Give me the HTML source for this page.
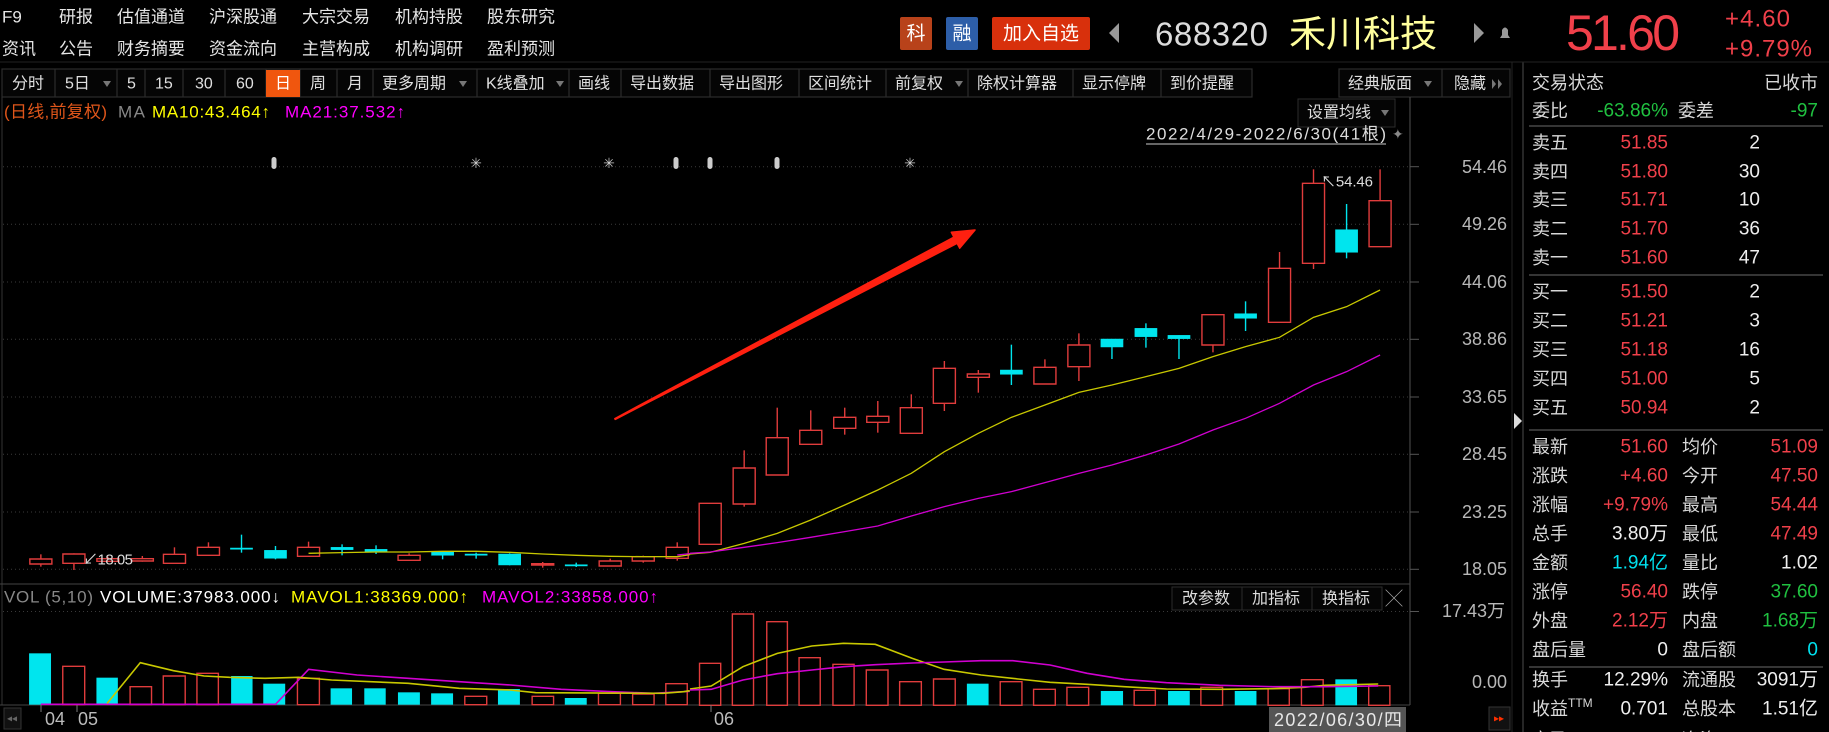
<!DOCTYPE html>
<html><head><meta charset="utf-8"><style>
html,body{margin:0;padding:0;background:#000;width:1829px;height:732px;overflow:hidden}
svg{display:block}
text{font-family:"Liberation Sans","Noto Sans CJK SC",sans-serif}
</style></head><body>
<svg width="1829" height="732" viewBox="0 0 1829 732" xmlns="http://www.w3.org/2000/svg">
<rect width="1829" height="732" fill="#000"/>
<!-- top nav -->
<g fill="#e6e6e6" font-size="17" dominant-baseline="central">
<text x="2" y="17">F9</text><text x="59" y="17">研报</text><text x="117" y="17">估值通道</text><text x="209" y="17">沪深股通</text><text x="302" y="17">大宗交易</text><text x="395" y="17">机构持股</text><text x="487" y="17">股东研究</text>
<text x="2" y="49">资讯</text><text x="59" y="49">公告</text><text x="117" y="49">财务摘要</text><text x="209" y="49">资金流向</text><text x="302" y="49">主营构成</text><text x="395" y="49">机构调研</text><text x="487" y="49">盈利预测</text>
</g>
<!-- header badges -->
<rect x="900" y="17" width="32" height="33" rx="2" fill="#b8421a"/><text x="916" y="34" fill="#fff" font-size="19" text-anchor="middle" dominant-baseline="central">科</text>
<rect x="946" y="17" width="32" height="33" rx="2" fill="#2d5ea8"/><text x="962" y="34" fill="#fff" font-size="19" text-anchor="middle" dominant-baseline="central">融</text>
<rect x="992" y="17" width="98" height="33" rx="2" fill="#d8300c"/><text x="1041" y="34" fill="#fff" font-size="19" text-anchor="middle" dominant-baseline="central">加入自选</text>
<polygon points="1109,33 1119,23 1119,43" fill="#999"/>
<text x="1155" y="34" fill="#dcdcdc" font-size="33" dominant-baseline="central" textLength="113">688320</text>
<text x="1289" y="34" fill="#ffff9c" font-size="37" dominant-baseline="central" textLength="148">禾川科技</text>
<polygon points="1474,23 1484,33 1474,43" fill="#999"/>
<path d="M1500,38 L1510,38 L1508,35 L1508,30 Q1505,25 1502,30 L1502,35 Z" fill="#999"/>
<text x="1566" y="33" fill="#f0404a" font-size="50" dominant-baseline="central" textLength="114">51.60</text>
<text x="1725" y="19" fill="#f0404a" font-size="24" dominant-baseline="central" textLength="65">+4.60</text>
<text x="1725" y="49" fill="#f0404a" font-size="24" dominant-baseline="central" textLength="87">+9.79%</text>
<!-- toolbar -->
<g stroke="#2c2c2c" stroke-width="1.2" fill="#050505">
<rect x="2" y="69" width="1250" height="28"/>
<rect x="1339" y="69" width="171" height="28"/>
</g>
<g stroke="#2c2c2c" stroke-width="1.2">
<line x1="55" y1="69" x2="55" y2="97"/><line x1="117" y1="69" x2="117" y2="97"/><line x1="145" y1="69" x2="145" y2="97"/><line x1="183" y1="69" x2="183" y2="97"/><line x1="225" y1="69" x2="225" y2="97"/><line x1="266" y1="69" x2="266" y2="97"/><line x1="300" y1="69" x2="300" y2="97"/><line x1="337" y1="69" x2="337" y2="97"/><line x1="373" y1="69" x2="373" y2="97"/><line x1="477" y1="69" x2="477" y2="97"/><line x1="569" y1="69" x2="569" y2="97"/><line x1="621" y1="69" x2="621" y2="97"/><line x1="710" y1="69" x2="710" y2="97"/><line x1="799" y1="69" x2="799" y2="97"/><line x1="886" y1="69" x2="886" y2="97"/><line x1="968" y1="69" x2="968" y2="97"/><line x1="1073" y1="69" x2="1073" y2="97"/><line x1="1161" y1="69" x2="1161" y2="97"/><line x1="1442" y1="69" x2="1442" y2="97"/>
</g>
<rect x="266" y="70" width="34" height="27" fill="#f0560e"/>
<g fill="#e0e0e0" font-size="16" dominant-baseline="central">
<text x="12" y="84">分时</text><text x="65" y="84">5日</text><text x="127" y="84">5</text><text x="155" y="84">15</text><text x="195" y="84">30</text><text x="236" y="84">60</text><text x="275" y="84" fill="#fff">日</text><text x="310" y="84">周</text><text x="347" y="84">月</text><text x="382" y="84">更多周期</text><text x="486" y="84">K线叠加</text><text x="578" y="84">画线</text><text x="630" y="84">导出数据</text><text x="719" y="84">导出图形</text><text x="808" y="84">区间统计</text><text x="895" y="84">前复权</text><text x="977" y="84">除权计算器</text><text x="1082" y="84">显示停牌</text><text x="1170" y="84">到价提醒</text><text x="1348" y="84">经典版面</text><text x="1454" y="84">隐藏</text>
</g>
<g fill="#777"><polygon points="103,81 111,81 107,87"/><polygon points="459,81 467,81 463,87"/><polygon points="556,81 564,81 560,87"/><polygon points="955,81 963,81 959,87"/><polygon points="1424,81 1432,81 1428,87"/><polygon points="1492,79 1496,84 1492,89"/><polygon points="1498,79 1502,84 1498,89"/></g>
<!-- legend -->
<g font-size="17" dominant-baseline="central">
<text x="4" y="112" fill="#e0561a" textLength="103">(日线,前复权)</text>
<text x="118" y="112" fill="#888" textLength="27">MA</text>
<text x="152" y="112" fill="#ffff00" textLength="118">MA10:43.464↑</text>
<text x="285" y="112" fill="#ff00ff" textLength="120">MA21:37.532↑</text>
</g>
<rect x="1298" y="99" width="97" height="28" fill="#050505" stroke="#2c2c2c"/>
<text x="1307" y="113" fill="#ddd" font-size="16" dominant-baseline="central">设置均线</text>
<polygon points="1381,110 1389,110 1385,116" fill="#777"/>
<text x="1146" y="134" fill="#ddd" font-size="17" dominant-baseline="central" textLength="240">2022/4/29-2022/6/30(41根)</text>
<line x1="1146" y1="144" x2="1386" y2="144" stroke="#ccc" stroke-width="1"/>
<text x="1392" y="134" fill="#888" font-size="14" dominant-baseline="central">✦</text>
<!-- chart frame -->
<line x1="2" y1="97" x2="2" y2="705" stroke="#333"/>
<line x1="1410" y1="97" x2="1410" y2="705" stroke="#444" stroke-width="1.2"/>
<line x1="0" y1="584" x2="1410" y2="584" stroke="#444"/>
<line x1="0" y1="705" x2="1410" y2="705" stroke="#444"/>
<g stroke="#3a3a3a" stroke-dasharray="1,3">
<line x1="3" y1="166.7" x2="1410" y2="166.7"/><line x1="3" y1="224.3" x2="1410" y2="224.3"/><line x1="3" y1="282" x2="1410" y2="282"/><line x1="3" y1="339.3" x2="1410" y2="339.3"/><line x1="3" y1="397" x2="1410" y2="397"/><line x1="3" y1="454.3" x2="1410" y2="454.3"/><line x1="3" y1="512" x2="1410" y2="512"/><line x1="3" y1="569.3" x2="1410" y2="569.3"/><line x1="3" y1="611.5" x2="1410" y2="611.5"/>
</g>
<g stroke="#555"><line x1="1410" y1="166.7" x2="1419" y2="166.7"/><line x1="1410" y1="224.3" x2="1419" y2="224.3"/><line x1="1410" y1="282" x2="1419" y2="282"/><line x1="1410" y1="339.3" x2="1419" y2="339.3"/><line x1="1410" y1="397" x2="1419" y2="397"/><line x1="1410" y1="454.3" x2="1419" y2="454.3"/><line x1="1410" y1="512" x2="1419" y2="512"/><line x1="1410" y1="569.3" x2="1419" y2="569.3"/><line x1="1410" y1="611.5" x2="1419" y2="611.5"/></g>
<g fill="#b8b8b8" font-size="18" text-anchor="end" dominant-baseline="central">
<text x="1507" y="167">54.46</text><text x="1507" y="224">49.26</text><text x="1507" y="282">44.06</text><text x="1507" y="339">38.86</text><text x="1507" y="397">33.65</text><text x="1507" y="454">28.45</text><text x="1507" y="512">23.25</text><text x="1507" y="569">18.05</text><text x="1505" y="611">17.43万</text><text x="1507" y="682">0.00</text>
</g>
<polygon points="1514,413 1522,421 1514,429" fill="#ddd"/>
<!-- markers -->
<g fill="#ccc" font-size="14" text-anchor="middle" dominant-baseline="central">
<rect x="271.5" y="157" width="5" height="12" rx="2.5"/><rect x="673.5" y="157" width="5" height="12" rx="2.5"/><rect x="707.5" y="157" width="5" height="12" rx="2.5"/><rect x="774.5" y="157" width="5" height="12" rx="2.5"/>
<text x="476" y="163">✳</text><text x="609" y="163">✳</text><text x="910" y="163">✳</text>
</g>
<!-- red arrow -->
<polygon points="615.2,419.4 957.1,243.3 959.7,248.2 975,230 951.3,232.2 953.9,237.1 614.8,418.6" fill="#ff2010" stroke="#ff2010" stroke-width="1.5" stroke-linejoin="round"/>
<!-- candles group A -->
<g transform="translate(0,140) scale(0.45914,0.33333)">
<g stroke="#e03c3c" stroke-width="1.4" fill="#000" vector-effect="non-scaling-stroke">
<line x1="89" y1="1243" x2="89" y2="1280" vector-effect="non-scaling-stroke"/><rect x="65" y="1257" width="48" height="15" vector-effect="non-scaling-stroke"/>
<line x1="161" y1="1240" x2="161" y2="1290" vector-effect="non-scaling-stroke"/><rect x="137" y="1242" width="48" height="28" vector-effect="non-scaling-stroke"/>
<line x1="235" y1="1250" x2="235" y2="1266" vector-effect="non-scaling-stroke"/><rect x="211" y="1256" width="48" height="8" vector-effect="non-scaling-stroke"/>
<line x1="310" y1="1248" x2="310" y2="1265" vector-effect="non-scaling-stroke"/><rect x="286" y="1256" width="48" height="7" vector-effect="non-scaling-stroke"/>
<line x1="380" y1="1222" x2="380" y2="1272" vector-effect="non-scaling-stroke"/><rect x="356" y="1243" width="48" height="27" vector-effect="non-scaling-stroke"/>
<line x1="454" y1="1207" x2="454" y2="1246" vector-effect="non-scaling-stroke"/><rect x="430" y="1222" width="48" height="24" vector-effect="non-scaling-stroke"/>
<line x1="672" y1="1205" x2="672" y2="1249" vector-effect="non-scaling-stroke"/><rect x="648" y="1222" width="48" height="27" vector-effect="non-scaling-stroke"/>
<line x1="891" y1="1240" x2="891" y2="1263" vector-effect="non-scaling-stroke"/><rect x="867" y="1246" width="48" height="15" vector-effect="non-scaling-stroke"/>
<line x1="1182" y1="1266" x2="1182" y2="1283" vector-effect="non-scaling-stroke"/><rect x="1158" y="1271" width="48" height="4" vector-effect="non-scaling-stroke"/>
<line x1="1329" y1="1256" x2="1329" y2="1278" vector-effect="non-scaling-stroke"/><rect x="1305" y="1263" width="48" height="15" vector-effect="non-scaling-stroke"/>
<line x1="1401" y1="1247" x2="1401" y2="1268" vector-effect="non-scaling-stroke"/><rect x="1377" y="1250" width="48" height="13" vector-effect="non-scaling-stroke"/>
<line x1="1475" y1="1207" x2="1475" y2="1262" vector-effect="non-scaling-stroke"/><rect x="1451" y="1222" width="48" height="33" vector-effect="non-scaling-stroke"/>
</g>
<g stroke="#00e5ee" stroke-width="1.4" fill="#00e5ee">
<line x1="526" y1="1184" x2="526" y2="1238" vector-effect="non-scaling-stroke"/><rect x="502" y="1224" width="48" height="4"/>
<line x1="600" y1="1218" x2="600" y2="1258" vector-effect="non-scaling-stroke"/><rect x="576" y="1231" width="48" height="24"/>
<line x1="745" y1="1213" x2="745" y2="1246" vector-effect="non-scaling-stroke"/><rect x="721" y="1222" width="48" height="7"/>
<line x1="819" y1="1216" x2="819" y2="1242" vector-effect="non-scaling-stroke"/><rect x="795" y="1228" width="48" height="7"/>
<line x1="964" y1="1234" x2="964" y2="1258" vector-effect="non-scaling-stroke"/><rect x="940" y="1236" width="48" height="10"/>
<line x1="1037" y1="1238" x2="1037" y2="1256" vector-effect="non-scaling-stroke"/><rect x="1013" y="1242" width="48" height="4"/>
<line x1="1110" y1="1240" x2="1110" y2="1276" vector-effect="non-scaling-stroke"/><rect x="1086" y="1242" width="48" height="33"/>
<line x1="1255" y1="1268" x2="1255" y2="1281" vector-effect="non-scaling-stroke"/><rect x="1231" y="1274" width="48" height="4"/>
</g>
<polyline fill="none" stroke="#c8c800" stroke-width="1.3" vector-effect="non-scaling-stroke" points="672,1240 745,1238 819,1236 891,1236 964,1234 1037,1234 1110,1237 1182,1242 1255,1246 1329,1249 1401,1250 1475,1250 1503,1244"/>
<polyline fill="none" stroke="#d000d0" stroke-width="1.3" vector-effect="non-scaling-stroke" points="1475,1245 1503,1241"/>
</g>
<text x="83" y="560" fill="#ddd" font-size="15" dominant-baseline="central" textLength="50">↙18.05</text>
<!-- candles group B -->
<g transform="translate(690,140) scale(0.45914,0.33333)">
<g stroke="#e03c3c" stroke-width="1.4" fill="#000">
<rect x="20" y="1090" width="48" height="123" vector-effect="non-scaling-stroke"/>
<line x1="118" y1="931" x2="118" y2="1100" vector-effect="non-scaling-stroke"/><rect x="94" y="984" width="48" height="108" vector-effect="non-scaling-stroke"/>
<line x1="190" y1="803" x2="190" y2="1005" vector-effect="non-scaling-stroke"/><rect x="166" y="893" width="48" height="112" vector-effect="non-scaling-stroke"/>
<line x1="263" y1="811" x2="263" y2="915" vector-effect="non-scaling-stroke"/><rect x="239" y="871" width="48" height="42" vector-effect="non-scaling-stroke"/>
<line x1="337" y1="803" x2="337" y2="884" vector-effect="non-scaling-stroke"/><rect x="313" y="832" width="48" height="33" vector-effect="non-scaling-stroke"/>
<line x1="409" y1="783" x2="409" y2="878" vector-effect="non-scaling-stroke"/><rect x="385" y="829" width="48" height="18" vector-effect="non-scaling-stroke"/>
<line x1="482" y1="763" x2="482" y2="880" vector-effect="non-scaling-stroke"/><rect x="458" y="803" width="48" height="77" vector-effect="non-scaling-stroke"/>
<line x1="554" y1="663" x2="554" y2="813" vector-effect="non-scaling-stroke"/><rect x="530" y="685" width="48" height="105" vector-effect="non-scaling-stroke"/>
<line x1="628" y1="690" x2="628" y2="758" vector-effect="non-scaling-stroke"/><rect x="604" y="702" width="48" height="10" vector-effect="non-scaling-stroke"/>
<line x1="773" y1="658" x2="773" y2="732" vector-effect="non-scaling-stroke"/><rect x="749" y="682" width="48" height="50" vector-effect="non-scaling-stroke"/>
<line x1="847" y1="580" x2="847" y2="723" vector-effect="non-scaling-stroke"/><rect x="823" y="615" width="48" height="65" vector-effect="non-scaling-stroke"/>
<line x1="1139" y1="524" x2="1139" y2="637" vector-effect="non-scaling-stroke"/><rect x="1115" y="524" width="48" height="91" vector-effect="non-scaling-stroke"/>
<line x1="1284" y1="336" x2="1284" y2="547" vector-effect="non-scaling-stroke"/><rect x="1260" y="385" width="48" height="162" vector-effect="non-scaling-stroke"/>
<line x1="1358" y1="88" x2="1358" y2="387" vector-effect="non-scaling-stroke"/><rect x="1334" y="130" width="48" height="240" vector-effect="non-scaling-stroke"/>
<line x1="1503" y1="88" x2="1503" y2="320" vector-effect="non-scaling-stroke"/><rect x="1479" y="182" width="48" height="138" vector-effect="non-scaling-stroke"/>
</g>
<g stroke="#00e5ee" stroke-width="1.4" fill="#00e5ee">
<line x1="700" y1="614" x2="700" y2="735" vector-effect="non-scaling-stroke"/><rect x="676" y="690" width="48" height="13"/>
<line x1="919" y1="597" x2="919" y2="657" vector-effect="non-scaling-stroke"/><rect x="895" y="597" width="48" height="24"/>
<line x1="993" y1="550" x2="993" y2="623" vector-effect="non-scaling-stroke"/><rect x="969" y="565" width="48" height="25"/>
<line x1="1065" y1="586" x2="1065" y2="657" vector-effect="non-scaling-stroke"/><rect x="1041" y="586" width="48" height="10"/>
<line x1="1210" y1="484" x2="1210" y2="573" vector-effect="non-scaling-stroke"/><rect x="1186" y="521" width="48" height="14"/>
<line x1="1430" y1="192" x2="1430" y2="355" vector-effect="non-scaling-stroke"/><rect x="1406" y="269" width="48" height="68"/>
</g>
<polyline fill="none" stroke="#c8c800" stroke-width="1.3" vector-effect="non-scaling-stroke" points="0,1242 44,1237 118,1210 190,1180 263,1140 337,1095 409,1050 482,1000 554,935 628,880 700,832 773,795 847,757 919,735 993,710 1065,685 1139,650 1210,620 1284,592 1358,532 1430,500 1503,450"/>
<polyline fill="none" stroke="#d000d0" stroke-width="1.3" vector-effect="non-scaling-stroke" points="0,1240 44,1236 118,1222 190,1208 263,1192 337,1175 409,1158 482,1128 554,1100 628,1075 700,1055 773,1028 847,1000 919,975 993,945 1065,912 1139,870 1210,835 1284,790 1358,735 1430,695 1503,645"/>
</g>
<text x="1321" y="182" fill="#ddd" font-size="15" dominant-baseline="central" textLength="52">↖54.46</text>
<!-- volume header -->
<g font-size="17" dominant-baseline="central">
<text x="4" y="597" fill="#888" textLength="89">VOL (5,10)</text>
<text x="100" y="597" fill="#fff" textLength="180">VOLUME:37983.000↓</text>
<text x="291" y="597" fill="#ffff00" textLength="177">MAVOL1:38369.000↑</text>
<text x="482" y="597" fill="#ff00ff" textLength="176">MAVOL2:33858.000↑</text>
</g>
<g stroke="#2c2c2c" fill="#050505"><rect x="1172" y="587" width="70" height="23"/><rect x="1242" y="587" width="70" height="23"/><rect x="1312" y="587" width="70" height="23"/></g>
<g fill="#ddd" font-size="16" dominant-baseline="central"><text x="1182" y="599">改参数</text><text x="1252" y="599">加指标</text><text x="1322" y="599">换指标</text></g>
<text x="1394" y="599" fill="#aaa" font-size="17" text-anchor="middle" dominant-baseline="central">╳</text>
<!-- volume group A -->
<g transform="translate(0,570) scale(0.5102,0.33333)">
<g fill="#00e5ee"><rect x="57" y="250" width="43" height="154"/><rect x="189" y="323" width="42" height="81"/><rect x="453" y="318" width="42" height="86"/><rect x="516" y="341" width="43" height="63"/><rect x="648" y="355" width="42" height="49"/><rect x="714" y="355" width="42" height="49"/><rect x="780" y="367" width="43" height="37"/><rect x="845" y="370" width="43" height="34"/><rect x="976" y="357" width="43" height="47"/><rect x="1107" y="384" width="43" height="20"/></g>
<g fill="none" stroke="#e03c3c" stroke-width="1.4"><rect x="123" y="289" width="43" height="115" vector-effect="non-scaling-stroke"/><rect x="255" y="350" width="42" height="54" vector-effect="non-scaling-stroke"/><rect x="320" y="318" width="43" height="86" vector-effect="non-scaling-stroke"/><rect x="386" y="310" width="42" height="94" vector-effect="non-scaling-stroke"/><rect x="583" y="325" width="43" height="79" vector-effect="non-scaling-stroke"/><rect x="911" y="379" width="43" height="25" vector-effect="non-scaling-stroke"/><rect x="1043" y="379" width="42" height="25" vector-effect="non-scaling-stroke"/><rect x="1173" y="370" width="43" height="34" vector-effect="non-scaling-stroke"/><rect x="1240" y="372" width="42" height="32" vector-effect="non-scaling-stroke"/><rect x="1305" y="341" width="42" height="63" vector-effect="non-scaling-stroke"/></g>
<polyline fill="none" stroke="#d000d0" stroke-width="1.6" vector-effect="non-scaling-stroke" points="80,403 540,403 605,298 700,315 800,325 900,335 1000,345 1100,358 1200,365 1280,370 1352,364"/>
<polyline fill="none" stroke="#c8c800" stroke-width="1.6" vector-effect="non-scaling-stroke" points="210,400 275,278 340,302 400,318 450,322 520,325 585,322 650,330 800,340 900,355 1000,360 1050,368 1300,370 1340,365 1352,362"/>
</g>
<!-- volume group B -->
<g transform="translate(690,580) scale(0.5294,0.33333)">
<g fill="#00e5ee"><rect x="523" y="311" width="41" height="65"/><rect x="776" y="333" width="42" height="43"/><rect x="903" y="333" width="41" height="43"/><rect x="1029" y="333" width="41" height="43"/><rect x="1219" y="298" width="41" height="78"/></g>
<g fill="none" stroke="#e03c3c" stroke-width="1.4"><rect x="18" y="250" width="40" height="126" vector-effect="non-scaling-stroke"/><rect x="80" y="102" width="40" height="274" vector-effect="non-scaling-stroke"/><rect x="145" y="125" width="39" height="251" vector-effect="non-scaling-stroke"/><rect x="206" y="233" width="40" height="143" vector-effect="non-scaling-stroke"/><rect x="270" y="253" width="40" height="123" vector-effect="non-scaling-stroke"/><rect x="333" y="270" width="41" height="106" vector-effect="non-scaling-stroke"/><rect x="396" y="305" width="41" height="71" vector-effect="non-scaling-stroke"/><rect x="460" y="297" width="41" height="79" vector-effect="non-scaling-stroke"/><rect x="586" y="305" width="41" height="71" vector-effect="non-scaling-stroke"/><rect x="649" y="328" width="41" height="48" vector-effect="non-scaling-stroke"/><rect x="712" y="322" width="41" height="54" vector-effect="non-scaling-stroke"/><rect x="839" y="331" width="40" height="45" vector-effect="non-scaling-stroke"/><rect x="965" y="322" width="41" height="54" vector-effect="non-scaling-stroke"/><rect x="1092" y="326" width="40" height="50" vector-effect="non-scaling-stroke"/><rect x="1155" y="299" width="41" height="77" vector-effect="non-scaling-stroke"/><rect x="1282" y="317" width="40" height="59" vector-effect="non-scaling-stroke"/></g>
<polyline fill="none" stroke="#c8c800" stroke-width="1.6" vector-effect="non-scaling-stroke" points="0,327 40,318 100,260 165,220 230,198 290,190 350,193 420,235 480,268 550,285 620,297 680,307 750,313 820,320 900,327 1000,328 1100,326 1160,322 1200,316 1300,312"/>
<polyline fill="none" stroke="#d000d0" stroke-width="1.6" vector-effect="non-scaling-stroke" points="0,330 40,328 100,300 165,281 230,270 290,260 350,254 420,249 480,246 550,242 610,242 680,255 750,280 820,298 900,308 1000,316 1100,320 1200,320 1300,318"/>
</g>
<!-- date axis -->
<g stroke="#777"><line x1="41" y1="705" x2="41" y2="712"/><line x1="77" y1="705" x2="77" y2="712"/><line x1="711" y1="705" x2="711" y2="712"/></g>
<g fill="#bbb" font-size="18" dominant-baseline="central"><text x="45" y="719">04</text><text x="78" y="719">05</text><text x="714" y="719">06</text></g>
<rect x="1269" y="707" width="137" height="25" fill="#555"/>
<text x="1274" y="720" fill="#e8e8e8" font-size="18" dominant-baseline="central" textLength="128">2022/06/30/四</text>
<rect x="4" y="708" width="17" height="21" fill="#111" stroke="#333"/><text x="12" y="719" fill="#666" font-size="10" text-anchor="middle" dominant-baseline="central">◂◂</text>
<rect x="1489" y="707" width="21" height="23" fill="#111" stroke="#333"/><text x="1499" y="719" fill="#ff3000" font-size="10" text-anchor="middle" dominant-baseline="central">▸▸</text>
<!-- right panel -->
<line x1="1523" y1="62" x2="1523" y2="732" stroke="#333" stroke-width="1.5"/>
<line x1="1512" y1="62" x2="1512" y2="732" stroke="#222"/>
<line x1="0" y1="62" x2="1829" y2="62" stroke="#222"/>
<g stroke="#555" stroke-width="1.2"><line x1="1529" y1="126" x2="1823" y2="126"/><line x1="1529" y1="275" x2="1823" y2="275"/><line x1="1529" y1="430" x2="1823" y2="430"/><line x1="1529" y1="667" x2="1823" y2="667"/></g>
<g font-size="18" dominant-baseline="central" fill="#d8d8d8">
<text x="1532" y="83">交易状态</text><text x="1818" y="83" text-anchor="end">已收市</text>
<text x="1532" y="111">委比</text><text x="1668" y="111" text-anchor="end" fill="#20c040" font-size="19">-63.86%</text><text x="1678" y="111">委差</text><text x="1818" y="111" text-anchor="end" fill="#20c040" font-size="19">-97</text>
<text x="1532" y="143">卖五</text><text x="1532" y="172">卖四</text><text x="1532" y="200">卖三</text><text x="1532" y="229">卖二</text><text x="1532" y="258">卖一</text>
<text x="1532" y="292">买一</text><text x="1532" y="321">买二</text><text x="1532" y="350">买三</text><text x="1532" y="379">买四</text><text x="1532" y="408">买五</text>
<g fill="#f0404a" text-anchor="end" font-size="19"><text x="1668" y="143">51.85</text><text x="1668" y="172">51.80</text><text x="1668" y="200">51.71</text><text x="1668" y="229">51.70</text><text x="1668" y="258">51.60</text><text x="1668" y="292">51.50</text><text x="1668" y="321">51.21</text><text x="1668" y="350">51.18</text><text x="1668" y="379">51.00</text><text x="1668" y="408">50.94</text></g>
<g fill="#eee" text-anchor="end" font-size="19"><text x="1760" y="143">2</text><text x="1760" y="172">30</text><text x="1760" y="200">10</text><text x="1760" y="229">36</text><text x="1760" y="258">47</text><text x="1760" y="292">2</text><text x="1760" y="321">3</text><text x="1760" y="350">16</text><text x="1760" y="379">5</text><text x="1760" y="408">2</text></g>
<text x="1532" y="447">最新</text><text x="1532" y="476">涨跌</text><text x="1532" y="505">涨幅</text><text x="1532" y="534">总手</text><text x="1532" y="563">金额</text><text x="1532" y="592">涨停</text><text x="1532" y="621">外盘</text><text x="1532" y="650">盘后量</text><text x="1532" y="680">换手</text><text x="1532" y="709">收益<tspan font-size="12" dy="-6">TTM</tspan></text>
<text x="1682" y="447">均价</text><text x="1682" y="476">今开</text><text x="1682" y="505">最高</text><text x="1682" y="534">最低</text><text x="1682" y="563">量比</text><text x="1682" y="592">跌停</text><text x="1682" y="621">内盘</text><text x="1682" y="650">盘后额</text><text x="1682" y="680">流通股</text><text x="1682" y="709">总股本</text>
<g text-anchor="end" font-size="19">
<text x="1668" y="447" fill="#f0404a">51.60</text><text x="1668" y="476" fill="#f0404a">+4.60</text><text x="1668" y="505" fill="#f0404a">+9.79%</text><text x="1668" y="534" fill="#eee">3.80万</text><text x="1668" y="563" fill="#00e0ee">1.94亿</text><text x="1668" y="592" fill="#f0404a">56.40</text><text x="1668" y="621" fill="#f0404a">2.12万</text><text x="1668" y="650" fill="#eee">0</text><text x="1668" y="680" fill="#eee">12.29%</text><text x="1668" y="709" fill="#eee">0.701</text>
<text x="1818" y="447" fill="#f0404a">51.09</text><text x="1818" y="476" fill="#f0404a">47.50</text><text x="1818" y="505" fill="#f0404a">54.44</text><text x="1818" y="534" fill="#f0404a">47.49</text><text x="1818" y="563" fill="#eee">1.02</text><text x="1818" y="592" fill="#20c040">37.60</text><text x="1818" y="621" fill="#20c040">1.68万</text><text x="1818" y="650" fill="#00e0ee">0</text><text x="1818" y="680" fill="#eee">3091万</text><text x="1818" y="709" fill="#eee">1.51亿</text>
</g>
<text x="1532" y="740">市盈</text><text x="1668" y="740" text-anchor="end" fill="#eee">73.60</text><text x="1682" y="740">净资</text><text x="1818" y="740" text-anchor="end" fill="#eee">10.85</text>
</g>
</svg>
</body></html>
